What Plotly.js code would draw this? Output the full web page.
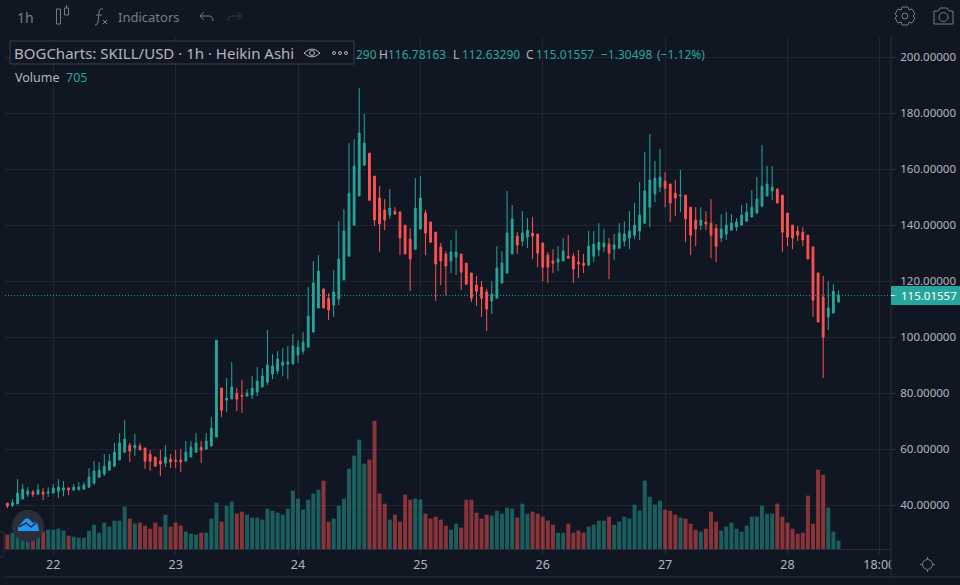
<!DOCTYPE html>
<html>
<head>
<meta charset="utf-8">
<script src="https://cdn.plot.ly/plotly-3.0.1.min.js"></script>
<style>
html, body { margin: 0; padding: 0; background: #111722; overflow: hidden; }
#chart { width: 960px; height: 585px; }
</style>
</head>
<body>
<div id="chart"></div>
<script>
// hourly Heikin Ashi candles
const opens = [
  40.8,40.0,40.5,42.3,44.0,44.8,44.0,44.8,44.4,44.4,
  45.1,45.5,46.2,45.5,45.8,45.8,46.5,48.0,50.1,51.2,
  52.6,54.0,56.2,59.0,61.5,60.5,61.2,60.5,58.3,57.3,
  55.8,55.1,56.5,56.2,56.2,55.8,57.3,59.0,60.8,60.1,
  61.2,64.4,81.9,77.6,78.0,80.1,79.4,79.0,79.4,80.5,
  82.3,84.0,86.9,88.0,90.1,90.5,90.5,93.7,95.1,96.5,
  101.9,110.5,117.3,114.0,111.5,113.7,120.5,129.0,140.1,150.5,
  161.5,165.8,157.6,149.8,145.5,143.7,145.1,144.8,140.1,135.1,
  131.5,138.7,144.4,141.2,137.6,132.3,129.8,127.3,128.7,129.8,
  126.5,123.0,118.7,118.0,116.2,113.0,114.0,119.4,123.0,129.8,
  136.2,134.4,135.8,137.3,136.9,133.7,129.4,127.3,126.9,127.3,
  129.0,129.0,126.9,126.5,125.8,129.0,131.2,132.3,133.3,131.5,
  131.9,134.4,135.5,136.5,138.0,140.8,146.5,151.2,153.7,155.8,
  154.8,151.5,150.5,150.8,146.5,141.9,140.1,141.2,140.8,139.0,
  135.5,136.9,138.3,139.4,140.1,141.5,143.0,144.4,146.9,150.5,
  152.3,153.0,150.8,144.4,140.1,138.0,137.6,136.5,132.3,123.0,
  114.4,107.3,108.7,112.63
]
const highs = [
  40.8,42.3,49.4,47.6,46.5,45.5,47.6,46.2,46.5,47.6,
  49.4,48.7,46.5,47.6,48.3,48.3,53.3,55.8,55.5,58.3,
  58.3,62.3,65.8,70.5,62.3,65.5,62.3,60.5,59.8,57.3,
  59.8,61.5,58.3,59.8,60.1,63.0,63.0,65.8,63.0,65.8,
  71.5,99.0,81.9,85.5,91.2,81.9,84.8,81.5,86.2,89.4,
  89.0,102.6,94.0,95.1,96.2,96.9,101.2,99.0,101.9,118.0,
  127.3,129.4,117.3,115.8,124.0,141.5,145.8,169.4,170.8,189.0,
  179.8,165.8,157.6,154.0,149.4,153.0,146.5,144.8,140.1,139.0,
  156.9,157.6,145.5,141.2,137.6,133.7,130.8,134.8,138.3,129.8,
  126.5,123.0,121.9,120.1,117.3,120.1,132.6,130.8,152.3,147.3,
  137.6,145.1,142.6,143.0,136.9,133.7,130.5,131.5,132.6,135.5,
  136.5,130.1,131.2,129.8,138.0,138.0,140.8,138.7,135.5,136.9,
  140.8,141.5,145.1,148.0,155.5,166.2,172.6,163.0,167.3,159.0,
  154.8,156.2,159.8,150.8,146.5,146.5,146.5,145.1,149.4,140.5,
  144.0,144.8,144.0,142.6,147.3,148.0,152.6,157.3,168.7,161.2,
  161.2,153.0,150.8,144.4,140.1,139.8,139.4,136.5,132.3,123.0,
  121.9,120.1,119.0,116.78163
]
const lows = [
  39.0,39.4,40.5,42.3,43.0,43.0,43.7,41.9,43.0,44.4,
  42.6,43.3,43.7,45.1,45.1,45.8,46.5,47.3,49.8,50.5,
  52.3,54.0,56.2,59.0,55.5,57.6,59.8,53.0,52.3,54.0,
  50.5,53.7,53.3,53.3,51.9,55.8,57.3,59.0,55.1,60.1,
  61.2,64.4,71.5,73.3,78.0,73.7,73.0,79.0,78.0,79.0,
  82.3,83.0,85.1,86.9,86.2,85.1,90.5,90.8,94.0,96.5,
  101.9,110.5,110.5,106.2,107.3,111.5,120.5,129.0,140.1,150.5,
  161.5,148.7,139.8,130.5,138.3,142.3,144.0,129.4,129.8,116.5,
  131.5,138.7,129.4,134.0,113.0,118.7,115.1,123.0,122.3,116.9,
  119.0,112.6,111.2,107.3,102.3,108.3,114.0,119.4,123.0,129.8,
  129.8,132.6,131.9,128.0,125.1,120.1,119.4,123.0,123.7,127.3,
  128.3,119.4,121.2,123.0,125.8,126.9,129.0,130.5,120.8,127.6,
  131.5,132.6,131.5,135.1,134.8,140.8,139.4,148.3,151.9,146.5,
  141.2,143.3,144.8,134.0,129.4,132.6,138.3,138.3,128.3,126.9,
  134.0,134.8,138.3,138.0,140.1,141.5,143.0,144.4,146.5,150.5,
  149.0,148.0,130.5,132.6,131.5,134.4,132.6,128.0,107.3,105.5,
  85.5,102.6,108.7,112.6329
]
const closes = [
  39.8,41.0,44.4,45.8,45.1,44.0,45.5,44.0,44.8,46.2,
  46.5,46.2,45.5,46.5,46.5,47.3,50.1,52.3,52.6,54.0,
  55.8,59.0,62.3,63.7,59.4,61.5,59.8,55.8,55.8,54.0,
  54.8,57.3,55.5,55.8,55.5,59.0,60.8,62.3,59.8,63.0,
  67.6,99.0,74.0,78.3,82.3,78.0,79.0,80.1,81.9,84.4,
  86.2,90.1,89.8,92.3,91.2,91.2,96.9,96.5,98.3,107.6,
  119.4,123.7,110.5,109.8,116.2,128.0,138.0,151.5,161.2,173.0,
  169.4,149.0,141.9,140.5,141.9,146.2,144.0,135.5,129.8,128.0,
  146.2,149.8,137.3,134.0,126.2,127.3,125.5,130.5,130.5,123.3,
  119.0,114.0,116.5,114.0,110.1,115.5,124.8,126.5,137.3,142.3,
  133.0,137.3,138.3,136.2,130.1,125.1,125.1,126.5,128.0,130.8,
  128.3,124.4,126.2,125.8,132.6,133.3,134.0,133.7,130.1,133.0,
  137.3,136.9,138.0,140.1,143.7,152.3,156.2,156.9,157.3,153.3,
  148.0,149.8,150.8,142.3,136.5,138.7,141.9,140.5,136.5,132.6,
  138.7,140.1,140.8,141.2,143.7,144.8,146.5,149.4,154.0,154.8,
  153.7,148.0,137.6,135.8,135.5,136.5,134.8,128.0,113.3,105.5,
  100.1,110.5,116.5,115.01557
]
const volumes = [
  1213,1382,1466,1382,1213,1072,1128,1495,1636,1636,
  1720,1551,1128,1043,959,959,1551,2059,1382,2228,
  1889,2397,2397,3581,2566,2143,2228,1974,1720,2228,
  1889,2905,1889,2228,1974,1466,1297,1213,1382,1382,
  2566,3920,2312,3666,4004,2989,3158,2905,2651,2651,
  2482,3412,3243,3074,2905,3412,4935,4258,3328,4174,
  4681,5020,5781,2312,2566,3666,4258,6796,7896,9250,
  7219,7558,10857,4681,3835,2482,2905,2312,4597,4174,
  4258,4174,2989,2566,2735,2482,1974,1636,2143,1805,
  4174,4174,3074,2566,2905,2820,3243,2989,3497,3412,
  2651,3835,2989,3158,2989,2735,2397,2059,1382,1382,
  2143,1382,1551,1382,1889,2059,2397,2397,2735,2059,
  2312,2735,2566,3751,3243,5781,4427,3751,4089,3328,
  3243,2905,2651,2566,2143,1636,1466,1720,3158,2312,
  1551,1889,2228,1720,1466,1974,2735,2735,3666,2989,
  2989,3835,2735,2228,1720,1297,1382,4512,2143,6712,
  6289,3497,1466,705
]
const dayTickPos = [9, 33, 57, 81, 105, 129, 153, 171]
const dayTickText = ['22', '23', '24', '25', '26', '27', '28', '18:00']
const priceTicks = [40, 60, 80, 100, 120, 140, 160, 180, 200]
const lastPrice = 115.01557

const BG = '#111722'
const GRID = '#1e2430'
const BORDER = '#2a2e39'
const UP = '#26a69a'
const DOWN = '#ff5252'
const TEXT = '#b2b5be'
const MUTED = '#787b86'
const FONT = '"Noto Sans", sans-serif'

// screen pixels to paper coords, plot area is x 5..891, y 37..549
const px = x => (x - 5) / 886
const py = y => (549 - y) / 512
const path = d => d.replace(/(-?[\d.]+) (-?[\d.]+)/g, (m, a, b) => px(+a) + ' ' + py(+b))

const index = opens.map((_, i) => i)
const barColors = opens.map((o, i) => closes[i] >= o ? 'rgba(38,166,154,0.5)' : 'rgba(255,82,82,0.5)')

let volumeTrace = {
  type: 'bar',
  x: index,
  y: volumes,
  yaxis: 'y2',
  width: 0.78,
  marker: { color: barColors, line: { width: 0 } },
  hoverinfo: 'skip'
}

let candleTrace = {
  type: 'candlestick',
  x: index,
  open: opens,
  high: highs,
  low: lows,
  close: closes,
  whiskerwidth: 0,
  increasing: { line: { color: UP, width: 1 }, fillcolor: UP },
  decreasing: { line: { color: DOWN, width: 1 }, fillcolor: DOWN },
  hoverinfo: 'skip'
}

function icon(d, color, width) {
  return { type: 'path', xref: 'paper', yref: 'paper', path: path(d), layer: 'above',
           line: { color: color, width: width || 1 } }
}
function box(x0, y0, x1, y1, fill, lineColor) {
  return { type: 'rect', xref: 'paper', yref: 'paper', layer: 'above',
           x0: px(x0), x1: px(x1), y0: py(y0), y1: py(y1),
           fillcolor: fill, line: { color: lineColor || fill, width: lineColor ? 1 : 0 } }
}
function ring(cx, cy, r, fill, lineColor) {
  return { type: 'circle', xref: 'paper', yref: 'paper', layer: 'above',
           x0: px(cx - r), x1: px(cx + r), y0: py(cy + r), y1: py(cy - r),
           fillcolor: fill, line: { color: lineColor || fill, width: lineColor ? 1 : 0 } }
}
function label(x, y, text, size, color, anchor) {
  return { xref: 'paper', yref: 'paper', x: px(x), y: py(y), text: text, showarrow: false,
           xanchor: anchor || 'left', yanchor: 'middle', align: 'left', borderpad: 0,
           font: { family: FONT, size: size, color: color } }
}

let shapes = [
  // last price line
  { type: 'line', xref: 'paper', yref: 'y', x0: 0, x1: 1, y0: lastPrice, y1: lastPrice,
    line: { color: UP, width: 1, dash: '1px,2px' } },
  // cover whatever runs past the price scale on the time axis
  box(891.5, 550, 960, 576.5, BG),
  icon('M5 577 L960 577', BORDER),
  icon('M891 37 L891 577', BORDER),
  icon('M0 532 L2 532 Q4 532 4 534 L4 555 Q4 557 2 557 L0 557', BORDER),
  // price tag
  box(891, 286, 960, 305, UP),
  icon('M891 295.5 L895 295.5', '#ffffff'),
  // legend box
  box(10, 41, 354, 64, BG, '#3a3e4a'),
  // eye
  icon('M304 53 Q312 45 320 53 Q312 61 304 53 Z', TEXT),
  ring(312, 53, 2.5, 'rgba(0,0,0,0)', TEXT),
  ring(334, 53, 1.5, 'rgba(0,0,0,0)', TEXT),
  ring(340, 53, 1.5, 'rgba(0,0,0,0)', TEXT),
  ring(346, 53, 1.5, 'rgba(0,0,0,0)', TEXT),
  // candle type icon
  icon('M56.5 9 L60.5 9 L60.5 24 L56.5 24 Z', MUTED),
  icon('M64.5 8 L68.5 8 L68.5 15 L64.5 15 Z M66.5 5 L66.5 8', MUTED),
  // fx
  icon('M103 9 Q99 8 99 13 L98 22 Q97 26 95 25 M96 15 L102 15', MUTED),
  icon('M103 20 L107 24 M107 20 L103 24', MUTED),
  // undo, redo
  icon('M204 12 L200 16 L204 20 M200 16 L209 16 Q213 16 213 21', MUTED),
  icon('M237 12 L241 16 L237 20 M241 16 L232 16 Q228 16 228 21', '#363a45'),
  // settings
  ring(905, 16, 3, 'rgba(0,0,0,0)', MUTED),
  icon('M902 7 L908 7 L909 10 L912 9 L915 14 L913 16 L915 18 L912 23 L909 22 L908 25 L902 25 L901 22 L898 23 L895 18 L897 16 L895 14 L898 9 L901 10 Z', MUTED),
  // camera
  icon('M934 11 L938 11 L940 8 L947 8 L949 11 L953 11 L953 24 L934 24 Z', MUTED),
  ring(943.5, 17, 4.5, 'rgba(0,0,0,0)', MUTED),
  // logo
  ring(28, 526, 16, '#2a2e39'),
  { type: 'path', xref: 'paper', yref: 'paper', layer: 'above', fillcolor: '#2196f3', line: { width: 0 },
    path: path('M18 527 L25 519 Q28 517 30 520 L33 523 Q36 521 38 525 L39 531 L18 531 Z') },
  icon('M19 527 L26 523 L31 527 L36 523', '#2a2e39', 1.5),
  // bottom right gear
  ring(927.5, 564.5, 5, 'rgba(0,0,0,0)', MUTED),
  icon('M927.5 557 L927.5 559 M927.5 570 L927.5 572 M920 564.5 L922 564.5 M933 564.5 L935 564.5', MUTED)
]

let annotations = [
  label(16, 17, '1h', 14, MUTED),
  label(117, 17, 'Indicators', 13, MUTED),
  label(13, 53, 'BOGCharts: SKILL/USD · 1h · Heikin Ashi', 15, TEXT),
  label(355, 54.5, '290', 12, UP),
  label(378, 54.5, 'H', 12, TEXT),
  label(387, 54.5, '116.78163', 12, UP),
  label(452, 54.5, 'L', 12, TEXT),
  label(461, 54.5, '112.63290', 12, UP),
  label(525, 54.5, 'C', 12, TEXT),
  label(534.5, 54.5, '115.01557', 12, UP),
  label(600, 54.5, '−1.30498', 12, UP),
  label(656, 54.5, '(−1.12%)', 12, UP),
  label(14, 77, 'Volume', 12.5, TEXT),
  label(65, 77, '705', 12.5, UP),
  label(900, 295.5, '115.01557', 11.5, '#ffffff')
]

let layout = {
  width: 960,
  height: 585,
  autosize: false,
  margin: { l: 5, r: 69, t: 37, b: 36, pad: 0 },
  paper_bgcolor: BG,
  plot_bgcolor: BG,
  showlegend: false,
  hovermode: false,
  font: { family: FONT, color: TEXT, size: 13 },
  xaxis: {
    range: [-0.47, 173.3],
    rangeslider: { visible: false },
    tickmode: 'array',
    tickvals: dayTickPos,
    ticktext: dayTickText,
    tickangle: 0,
    ticks: 'outside',
    ticklen: 4,
    tickcolor: BORDER,
    tickfont: { family: FONT, size: 12.5, color: TEXT },
    gridcolor: GRID,
    showline: true,
    linecolor: BORDER,
    zeroline: false
  },
  yaxis: {
    side: 'right',
    range: [24.43, 207.29],
    tickmode: 'array',
    tickvals: priceTicks,
    tickformat: '.5f',
    ticks: 'outside',
    ticklen: 4,
    tickcolor: BORDER,
    ticklabelstandoff: 2,
    tickfont: { family: FONT, size: 11.5, color: TEXT },
    gridcolor: GRID,
    zeroline: false
  },
  yaxis2: {
    overlaying: 'y',
    range: [0, 43315],
    visible: false,
    showgrid: false,
    zeroline: false
  },
  bargap: 0.2,
  boxgap: 0.5,
  shapes: shapes,
  annotations: annotations
}

Plotly.newPlot('chart', [volumeTrace, candleTrace], layout, { displayModeBar: false, staticPlot: true })
</script>
</body>
</html>
